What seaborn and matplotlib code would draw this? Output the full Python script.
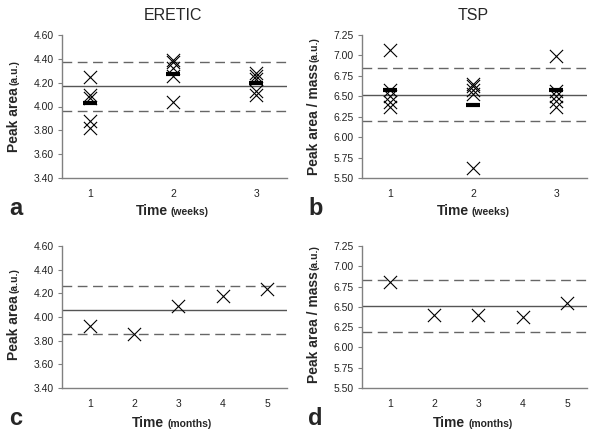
import numpy as np
import pandas as pd
import matplotlib
matplotlib.use("Agg")
import matplotlib.pyplot as plt
import seaborn as sns

sns.set_theme(style="white")
plt.rcParams['font.family'] = ['Liberation Sans', 'DejaVu Sans']

# ---- data ----
weeks = [1, 2, 3]
months = [1, 2, 3, 4, 5]

eretic_w1 = [4.25, 4.10, 4.07, 3.88, 3.82]
eretic_w2 = [4.39, 4.37, 4.32, 4.26, 4.04]
eretic_w3 = [4.28, 4.26, 4.23, 4.13, 4.10]
eretic_week_mean = [4.03, 4.27, 4.20]
eretic_week_lines = [4.17, 4.375, 3.96]   # mean, upper, lower

tsp_w1 = [7.07, 6.58, 6.50, 6.43, 6.37]
tsp_w2 = [6.65, 6.62, 6.58, 6.53, 5.62]
tsp_w3 = [6.99, 6.57, 6.50, 6.44, 6.37]
tsp_week_mean = [6.58, 6.39, 6.58]
tsp_week_lines = [6.52, 6.85, 6.20]

eretic_month = [3.92, 3.86, 4.09, 4.18, 4.24]
eretic_month_lines = [4.06, 4.26, 3.86]

tsp_month = [6.81, 6.40, 6.40, 6.37, 6.55]
tsp_month_lines = [6.51, 6.83, 6.19]

eretic_ticks = [3.40, 3.60, 3.80, 4.00, 4.20, 4.40, 4.60]
tsp_ticks = [5.50, 5.75, 6.00, 6.25, 6.50, 6.75, 7.00, 7.25]

fig = plt.figure(figsize=(6.0, 4.34), dpi=100)
W, H = 600, 434

def add_ax(l, t, r, b):
    return fig.add_axes([l / W, 1 - b / H, (r - l) / W, (b - t) / H])

axa = add_ax(62, 35, 287, 178)
axb = add_ax(362, 35, 587, 178)
axc = add_ax(62, 246, 287, 388)
axd = add_ax(362, 246, 587, 388)

def weekly_df(groups):
    rows = []
    for w, vals in zip(weeks, groups):
        for v in vals:
            rows.append((w, v))
    return pd.DataFrame(rows, columns=["time", "value"])

def style(ax, ticks, xlim, xt):
    ax.set_ylim(ticks[0], ticks[-1])
    ax.set_yticks(ticks)
    ax.set_yticklabels([f"{t:.2f}" for t in ticks], fontsize=7.5, color="#222222")
    ax.set_xlim(*xlim)
    ax.set_xticks(xt)
    ax.set_xticklabels([str(v) for v in xt], fontsize=7.5, color="#222222")
    for s in ["top", "right"]:
        ax.spines[s].set_visible(False)
    for s in ["left", "bottom"]:
        ax.spines[s].set_color("#808080")
        ax.spines[s].set_linewidth(1.0)
    ax.tick_params(axis="y", length=3, width=0.8, color="#808080", pad=3, left=True)
    ax.tick_params(axis="x", length=0, pad=8)
    ax.set_xlabel("")
    ax.set_ylabel("")
    ax.grid(False)

def ref_lines(ax, lines):
    m, up, lo = lines
    ax.axhline(m, color="#555555", lw=1.0, zorder=1)
    for v in (up, lo):
        ax.axhline(v, color="#666666", lw=1.0, dashes=(7, 4), zorder=1)

def crosses(ax, df):
    sns.scatterplot(data=df, x="time", y="value", marker="x", s=90, color="black",
                    linewidth=0.8, ax=ax, zorder=3, legend=False)

def means(ax, xs, ms):
    dfm = pd.DataFrame({"time": xs, "value": ms})
    sns.scatterplot(data=dfm, x="time", y="value", marker="_", s=90, color="black",
                    linewidth=3.0, ax=ax, zorder=4, legend=False)

# panel a
ref_lines(axa, eretic_week_lines)
crosses(axa, weekly_df([eretic_w1, eretic_w2, eretic_w3]))
means(axa, weeks, eretic_week_mean)
style(axa, eretic_ticks, (0.66, 3.37), weeks)

# panel b
ref_lines(axb, tsp_week_lines)
crosses(axb, weekly_df([tsp_w1, tsp_w2, tsp_w3]))
means(axb, weeks, tsp_week_mean)
style(axb, tsp_ticks, (0.66, 3.37), weeks)

# panel c
ref_lines(axc, eretic_month_lines)
crosses(axc, pd.DataFrame({"time": months, "value": eretic_month}))
style(axc, eretic_ticks, (0.37, 5.45), months)

# panel d
ref_lines(axd, tsp_month_lines)
crosses(axd, pd.DataFrame({"time": months, "value": tsp_month}))
style(axd, tsp_ticks, (0.37, 5.45), months)

# titles
fig.text(173 / W, 1 - 15 / H, "ERETIC", ha="center", va="center", fontsize=11.5)
fig.text(473 / W, 1 - 15 / H, "TSP", ha="center", va="center", fontsize=11.5)

fig.canvas.draw()
renderer = fig.canvas.get_renderer()

def two_part_vertical(xc, yc_px, main, sub, main_size=10, sub_size=7.5, gap=2):
    t1 = fig.text(xc / W, 0, main, rotation=90, fontsize=main_size, weight="bold",
                  ha="center", va="bottom")
    t2 = fig.text(xc / W, 0, sub, rotation=90, fontsize=sub_size, weight="bold",
                  ha="center", va="bottom")
    h1 = t1.get_window_extent(renderer).height
    h2 = t2.get_window_extent(renderer).height
    total = h1 + h2 + gap
    start = (H - yc_px) - total / 2
    t1.set_y(start / H)
    t2.set_y((start + h1 + gap) / H)

def two_part_horizontal(xc_px, y_px, main, sub, main_size=10, sub_size=7.5, gap=3):
    t1 = fig.text(0, 1 - y_px / H, main, fontsize=main_size, weight="bold",
                  ha="left", va="baseline")
    t2 = fig.text(0, 1 - y_px / H, sub, fontsize=sub_size, weight="bold",
                  ha="left", va="baseline")
    w1 = t1.get_window_extent(renderer).width
    w2 = t2.get_window_extent(renderer).width
    total = w1 + w2 + gap
    start = xc_px - total / 2
    t1.set_x(start / W)
    t2.set_x((start + w1 + gap) / W)

two_part_vertical(14, 106, "Peak area", "(a.u.)")
two_part_vertical(314, 106, "Peak area / mass", "(a.u.)")
two_part_vertical(14, 314, "Peak area", "(a.u.)")
two_part_vertical(314, 314, "Peak area / mass", "(a.u.)")

two_part_horizontal(172, 215, "Time", "(weeks)")
two_part_horizontal(473, 215, "Time", "(weeks)")
two_part_horizontal(172, 427, "Time", "(months)")
two_part_horizontal(473, 427, "Time", "(months)")

for x, y, l in [(9, 215, "a"), (308, 215, "b"), (9, 425, "c"), (308, 425, "d")]:
    fig.text(x / W, 1 - y / H, l, fontsize=17, weight="bold", ha="left", va="baseline")

fig.savefig("out.png", dpi=100)
